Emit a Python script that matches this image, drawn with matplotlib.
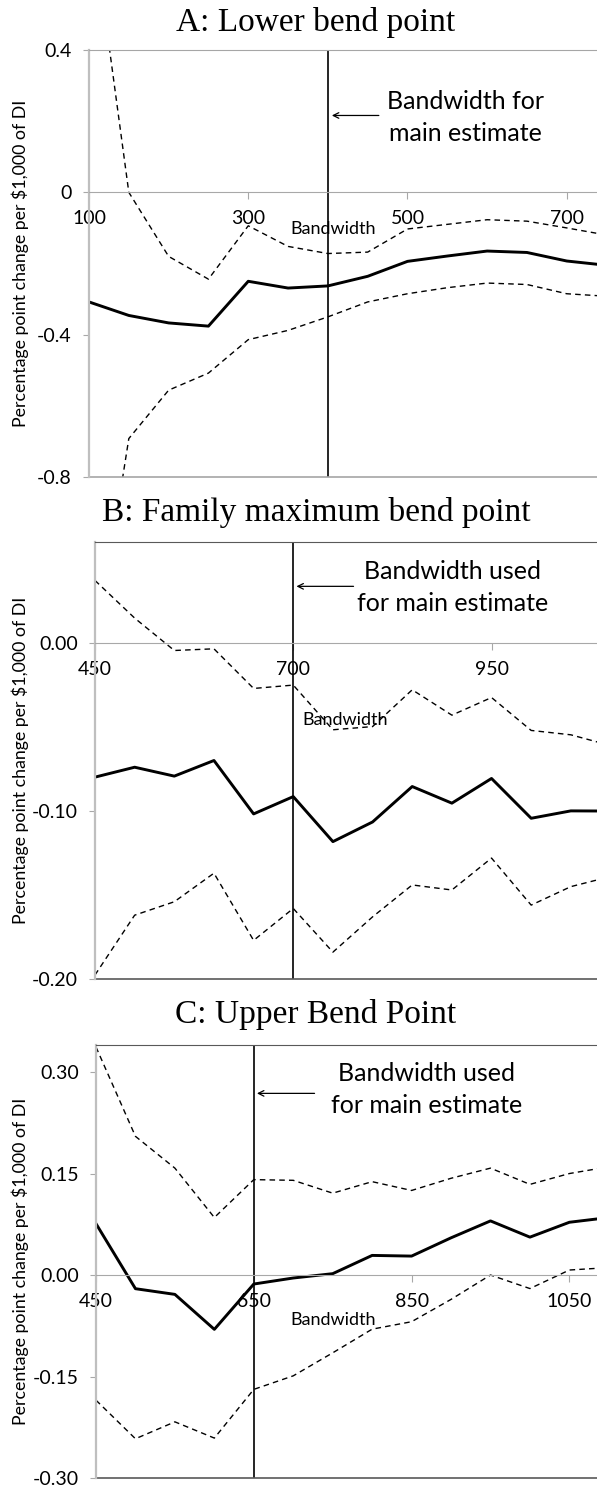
import numpy as np
import matplotlib
matplotlib.use('Agg')
import matplotlib.pyplot as plt

plt.rcParams['font.family'] = ['Lato', 'DejaVu Sans']

# ---------------------------------------------------------------------------
# Estimates by bandwidth (point estimate with upper / lower CI bounds)

# A: lower bend point
bw_a = [100, 150, 200, 250, 300, 350, 400, 450, 500, 550, 600, 650, 700, 750]
est_a = [-0.308, -0.346, -0.367, -0.376, -0.250, -0.269, -0.263, -0.236,
         -0.194, -0.179, -0.165, -0.169, -0.193, -0.205]
hi_a = [0.83, 0.0, -0.180, -0.244, -0.094, -0.152, -0.172, -0.168,
        -0.103, -0.090, -0.077, -0.081, -0.100, -0.120]
lo_a = [-1.40, -0.692, -0.556, -0.508, -0.414, -0.388, -0.350, -0.308,
        -0.285, -0.268, -0.255, -0.259, -0.285, -0.292]

# B: family maximum bend point
bw_b = [450, 500, 550, 600, 650, 700, 750, 800, 850, 900, 950, 1000, 1050, 1100]
est_b = [-0.0798, -0.0739, -0.0792, -0.0699, -0.1017, -0.0914, -0.1182,
         -0.1065, -0.0854, -0.0953, -0.0806, -0.1043, -0.0999, -0.1000]
hi_b = [0.0373, 0.0149, -0.0044, -0.0034, -0.0270, -0.0250, -0.0516,
        -0.0497, -0.0278, -0.0429, -0.0324, -0.0520, -0.0546, -0.0610]
lo_b = [-0.1976, -0.1620, -0.1540, -0.1370, -0.1770, -0.1580, -0.1840,
        -0.1630, -0.1440, -0.1470, -0.1280, -0.1560, -0.1450, -0.1390]

# C: upper bend point
bw_c = [450, 500, 550, 600, 650, 700, 750, 800, 850, 900, 950, 1000, 1050, 1100]
est_c = [0.0759, -0.0202, -0.0286, -0.0803, -0.0133, -0.0044, 0.0020,
         0.0290, 0.0280, 0.0550, 0.0800, 0.0560, 0.0780, 0.0850]
hi_c = [0.337, 0.205, 0.158, 0.085, 0.141, 0.140, 0.121, 0.138, 0.125,
        0.143, 0.158, 0.134, 0.150, 0.160]
lo_c = [-0.185, -0.242, -0.217, -0.241, -0.169, -0.149, -0.115, -0.080,
        -0.069, -0.036, 0.000, -0.020, 0.0074, 0.011]

panels = [
    dict(title='A: Lower bend point', x=bw_a, est=est_a, hi=hi_a, lo=lo_a,
         main_bw=400, xlim=(100, 738), ylim=(-0.8, 0.4),
         xticks=[100, 300, 500, 700],
         yticks=[0.4, 0, -0.4, -0.8], ylabels=['0.4', '0', '-0.4', '-0.8'],
         note='Bandwidth for\nmain estimate', note_xy=(573, 0.21),
         arrow=((464, 0.216), (405, 0.216)), bw_lab=(406, -0.104),
         pos=[89, 50, 477], frame='#a6a6a6'),
    dict(title='B: Family maximum bend point', x=bw_b, est=est_b, hi=hi_b, lo=lo_b,
         main_bw=700, xlim=(450, 1083), ylim=(-0.2, 0.0602),
         xticks=[450, 700, 950],
         yticks=[0, -0.1, -0.2], ylabels=['0.00', '-0.10', '-0.20'],
         note='Bandwidth used\nfor main estimate', note_xy=(901, 0.033),
         arrow=((776, 0.0338), (704, 0.0338)), bw_lab=(766, -0.046),
         pos=[95, 542, 979], frame='#595959'),
    dict(title='C: Upper Bend Point', x=bw_c, est=est_c, hi=hi_c, lo=lo_c,
         main_bw=650, xlim=(450, 1085), ylim=(-0.3, 0.34),
         xticks=[450, 650, 850, 1050],
         yticks=[0.3, 0.15, 0, -0.15, -0.3],
         ylabels=['0.30', '0.15', '0.00', '-0.15', '-0.30'],
         note='Bandwidth used\nfor main estimate', note_xy=(869, 0.274),
         arrow=((727, 0.2685), (654, 0.2685)), bw_lab=(750, -0.067),
         pos=[96, 1045, 1478], frame='#595959'),
]

W, H = 597, 1487
fig = plt.figure(figsize=(W / 100, H / 100), dpi=100)

for p in panels:
    left, top, bottom = p['pos']
    ax = fig.add_axes([left / W, 1 - bottom / H, 1 - left / W, (bottom - top) / H])

    ax.plot(p['x'], p['est'], color='black', lw=2.1)
    ax.plot(p['x'], p['hi'], color='black', lw=1.0, ls=(0, (4, 3)))
    ax.plot(p['x'], p['lo'], color='black', lw=1.0, ls=(0, (4, 3)))
    ax.axvline(p['main_bw'], color='black', lw=1.2)

    ax.set_xlim(*p['xlim'])
    ax.set_ylim(*p['ylim'])

    # x axis sits on zero, plot area framed in gray
    ax.spines['bottom'].set_position(('data', 0))
    ax.spines['bottom'].set_color('#a8a8a8')
    ax.spines['right'].set_visible(False)
    ax.spines['top'].set_color(p['frame'])
    ax.spines['left'].set_color('#bfbfbf')
    ax.spines['left'].set_linewidth(1.6)
    ax.axhline(p['ylim'][0], color=p['frame'], lw=1.2, clip_on=False)

    ax.set_xticks(p['xticks'])
    ax.set_xticklabels([str(t) for t in p['xticks']])
    ax.set_yticks(p['yticks'])
    ax.set_yticklabels(p['ylabels'])
    ax.tick_params(axis='x', direction='out', length=5, color='#a8a8a8',
                   labelsize=14, pad=8)
    ax.tick_params(axis='y', direction='out', length=4.5, color='#a8a8a8',
                   labelsize=14, pad=8)

    ax.annotate('', xy=p['arrow'][1], xytext=p['arrow'][0],
                arrowprops=dict(arrowstyle='->', lw=0.9, color='black',
                                shrinkA=0, shrinkB=0))
    ax.text(*p['note_xy'], p['note'], ha='center', va='center',
            multialignment='center', fontsize=18, linespacing=1.45)
    ax.text(*p['bw_lab'], 'Bandwidth', ha='center', va='center', fontsize=13)

    fig.text(20 / W, 1 - (top + bottom) / 2 / H,
             'Percentage point change per $1,000 of DI',
             rotation=90, ha='center', va='center', fontsize=12.8)

title_y = [22, 513, 1015]
for p, ty in zip(panels, title_y):
    fig.text(316 / W, 1 - ty / H, p['title'], ha='center', va='center',
             family='Liberation Serif', fontsize=24)

fig.savefig('out.png', dpi=100)
